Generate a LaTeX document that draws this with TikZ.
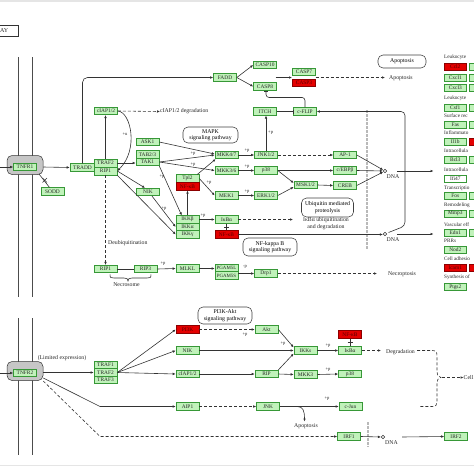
\documentclass[tikz,border=0pt]{standalone}
\usepackage{fontspec}
\setmainfont{Liberation Serif}
\usetikzlibrary{arrows.meta,calc}
\definecolor{kfill}{HTML}{C0F2BA}
\definecolor{kdraw}{HTML}{379837}
\definecolor{kred}{HTML}{E40000}
\definecolor{kline}{HTML}{333333}
\newcommand{\fsA}{\fontsize{5.4}{5.6}\selectfont}
\newcommand{\fsL}{\fontsize{5.8}{6.4}\selectfont}
\newcommand{\fsP}{\fontsize{4.6}{4.8}\selectfont}
\newcommand{\fsR}{\fontsize{5.2}{5.4}\selectfont}
\begin{document}
\begin{tikzpicture}[x=1pt,y=-1pt,
 gb/.style={draw=kdraw, fill=kfill, line width=0.6pt, minimum width=23pt, minimum height=7.5pt, inner sep=0pt, font=\fsA, text=black!85},
 rb/.style={gb, fill=kred, draw=red!55!black, text=red!35!black},
 wb/.style={gb, fill=white},
 cb/.style={gb, minimum width=21.5pt, minimum height=7pt},
 crb/.style={rb, minimum width=21.5pt, minimum height=7pt},
 cwb/.style={wb, minimum width=21.5pt, minimum height=7pt, draw=kdraw},
 rcpt/.style={draw=gray!40!black, fill=gray!45, rounded corners=5pt, minimum width=36pt, minimum height=19pt, inner sep=0pt, line width=0.5pt},
 pwbox/.style={draw=black!75, fill=white, rounded corners=5pt, line width=0.55pt, inner sep=0pt, font=\fsL, align=center},
 lbl/.style={font=\fsL, inner sep=0pt, text=black!85},
 rlbl/.style={font=\fsR, inner sep=0pt, text=black!85, anchor=west},
 pl/.style={font=\fsP, inner sep=0pt, text=black!85},
 ar/.style={draw=kline, line width=0.6pt, -{Latex[length=3pt,width=2.6pt]}},
 dar/.style={ar, dash pattern=on 3pt off 2pt},
 ln/.style={draw=kline, line width=0.6pt},
 dln/.style={ln, dash pattern=on 3pt off 2pt},
 inh/.style={draw=kline, line width=0.6pt, -{Bar[width=4pt]}},
 memb/.style={draw=gray!60!black, line width=0.8pt},
 nucl/.style={draw=gray!55, line width=1.6pt, dash pattern=on 2.5pt off 1.5pt},
 dnac/.style={circle, draw=kline, line width=0.55pt, minimum size=3.6pt, inner sep=0pt}
]
\useasboundingbox (0,0) rectangle (474,474);
\clip (0,0) rectangle (474,474);
% frame bands
\fill[gray!20] (0,0) rectangle (474,2);
\fill[gray!20] (0,464.5) rectangle (474,466);
% title box
\draw[black!80, line width=0.6pt] (-2,25.5) rectangle (18.5,36);
\node[lbl, anchor=east, font=\fontsize{6}{6}\selectfont] (ttl) at (8.5,31) {AY};
% membranes
\draw[memb] (18,57) -- (18,297);
\draw[memb] (32,57) -- (32,297);
\draw[memb] (18,318) -- (18,455);
\draw[memb] (32,318) -- (32,455);
% nuclear membranes
\draw[nucl] (367,110) -- (367,250);
\draw[nucl] (368,422) -- (368,447);

% ================= TNFR1 part =================
\node[rcpt] (tnfr1b) at (25,165) {};
\node[gb] (tnfr1) at (25,167) {TNFR1};
\coordinate (in1) at (0,167);
\draw[ar] (in1) -- (tnfr1.west);
\node[gb] (sodd) at (52.5,191.5) {SODD};
\draw[ln] (39,174) -- ($(sodd.north)+(-3,0)$);
\draw[ln] (42.5,178) -- (47,182.5) (47,178) -- (42.5,182.5);
\node[gb, minimum width=25pt] (tradd) at (82.5,167.5) {TRADD};
\node[gb, minimum height=8pt] (traf2) at (105.5,163) {TRAF2};
\node[gb, minimum height=8pt] (rip1) at (105.5,171) {RIP1};
\draw[ar] (tnfr1b.east |- tnfr1.east) -- (tradd.west);

\node[gb] (fadd) at (225,77.5) {FADD};
\draw[ar, rounded corners=5pt] (tradd.north) -- (tradd.north |- fadd.west) -- (fadd.west);
\node[gb] (casp10) at (265,65) {CASP10};
\node[gb] (casp8) at (265,86.5) {CASP8};
\draw[ar] (fadd.east) -- (casp10.west);
\draw[ar] (fadd.east) -- (casp8.west);
\node[gb] (casp7) at (304,72) {CASP7};
\node[rb] (casp3) at (304,83) {CASP3};
\coordinate (c3in) at (275.5,77.5);
\coordinate (c3end) at (292,77.5);
\draw[ar] (c3in) -- (c3end);
\coordinate (c3out) at (315.5,77.5);
\coordinate (apin) at (385,77.5);
\node[lbl, anchor=west] (apopt1) at (389,78) {Apoptosis};
\draw[dar] (c3out) -- (apin);
\node[pwbox, minimum width=48pt, minimum height=13pt] (apbox) at (402,61.5) {Apoptosis};

\node[gb] (itch) at (265,111.5) {ITCH};
\node[gb] (cflip) at (305,111.5) {c-FLIP};
\draw[inh] (itch.east) -- (cflip.west);
\draw[inh, rounded corners=3pt] (cflip.north) -- ++(0,-10) -| ($(casp8.south)+(1,0)$);

% cIAP
\node[gb] (ciap) at (106,111) {cIAP1/2};
\draw[ar] (traf2.north) -- (traf2.north |- ciap.south);
\node[lbl, anchor=west] (ciapdeg) at (160,111.5) {cIAP1/2 degradation};
\draw[dar] (ciap.east) -- (ciapdeg.west);
\draw[ar] (ciap.east) .. controls (131,112) and (139,150) .. (rip1.east);
\node[pl] (pu1) at (125,134) {+u};

% ASK1 / TAB / TAK1 / NIK
\node[gb] (ask1) at (147.5,142) {ASK1};
\node[gb] (tab) at (147.5,154.5) {TAB2/3};
\node[gb] (tak1) at (147.5,162) {TAK1};
\draw[ar] (traf2.east) -- (traf2.east -| tak1.west);
\node[gb] (nik) at (148,192) {NIK};
\draw[ar] (rip1.east) -- ($(nik.north)+(-3,0)$);

% Tpl2 / IKK
\node[gb] (tpl2) at (187.5,178.5) {Tpl2};
\node[rb] (nfkb1) at (187.5,186.5) {NF-κB};
\node[gb] (ikkb) at (187.5,219.5) {IKKβ};
\node[gb] (ikka) at (187.5,227) {IKKα};
\node[gb] (ikkg) at (187.5,234.5) {IKKγ};
\draw[ar] (ikkb.north) -- (nfkb1.south);
\draw[ar] (tak1.south east) -- ($(ikkb.north west)+(6,0)$);
\node[pl] (p1) at (162,177) {+p};
\draw[ar] ($(nik.south)+(4,0)$) -- (ikka.west);
\node[pl] (p2) at (164,209) {+p};
\draw[ar] (rip1.south east) -- (ikkg.west);

% MAPK
\node[gb] (mkk47) at (226.5,155) {MKK4/7};
\node[gb] (mkk36) at (226.5,170.5) {MKK3/6};
\node[gb] (mek1) at (226.5,195.5) {MEK1};
\draw[ar] (ask1.east) -- ($(mkk47.west)+(0,-1)$);
\draw[ar] (tak1.east) -- (mkk47.west);
\draw[ar] (tak1.east) -- (mkk36.west);
\node[pl] (p3) at (193,153.5) {+p};
\node[pl] (p4) at (193,164.5) {+p};
\draw[ar] ($(tpl2.north east)+(-2,0)$) -- ($(mkk47.south west)+(1,0)$);
\draw[ar] (tpl2.east) -- (mek1.west);
\node[pl] (p5) at (209,183) {+p};
\node[pwbox, minimum width=55pt, minimum height=16pt] (mapk) at (210.5,135) {MAPK\\signaling pathway};

\node[gb] (jnk) at (266,155) {JNK1/2};
\node[gb] (p38) at (266,170.5) {p38};
\node[gb] (erk) at (266,195.5) {ERK1/2};
\draw[ar] (mkk47.east) -- (jnk.west);
\draw[ar] (mkk36.east) -- (p38.west);
\draw[ar] (mek1.east) -- (erk.west);
\node[pl] (p6) at (247,151) {+p};
\node[pl] (p7) at (247,166.5) {+p};
\node[pl] (p8) at (247,191.5) {+p};
\draw[ar] (jnk.north) -- (jnk.north |- itch.south);
\node[pl, anchor=west] (p9) at (268,133) {+p};

\node[gb] (msk) at (305.5,185) {MSK1/2};
\draw[ar] (p38.east) -- ($(msk.west)+(0,-2)$);
\draw[ar] (erk.east) -- ($(msk.west)+(0,2)$);
\node[gb] (ap1) at (345,155) {AP-1};
\node[gb] (cebp) at (345,170.5) {c/EBPβ};
\node[gb] (creb) at (345,185.5) {CREB};
\draw[dar] (jnk.east) -- (ap1.west);
\draw[ar] (p38.east) -- (cebp.west);
\draw[ar] (msk.east) -- (creb.west);
\node[dnac] (dna1) at (385,171) {};
\node[lbl, anchor=west] (dna1t) at (386.5,176.5) {DNA};
\draw[ar] (ap1.east) -- (dna1);
\draw[ar] (cebp.east) -- (dna1);
\draw[ar] (creb.east) -- (dna1);
\coordinate (out1) at (433.5,171);
\draw[ar] ($(dna1)+(12,0)$) -- (out1);

% NF-kB
\node[gb] (ikba) at (226.5,219.5) {IκBα};
\node[rb] (nfkb2) at (226.5,234.5) {NF-κB};
\draw[ln] (ikba.south) -- (nfkb2.north);
\draw[ln] ($(ikba.south)!0.5!(nfkb2.north)+(-2.5,0)$) -- ++(5,0);
\draw[ar] (ikkb.east) -- (ikba.west);
\node[pl] (p10) at (203,215.5) {+p};
\coordinate (ubin) at (293,219.5);
\draw[dar] (ikba.east) -- (ubin);
\node[pwbox, minimum width=52pt, minimum height=19pt] (ubq) at (327.5,207.5) {Ubiquitin mediated\\proteolysis};
\node[lbl, align=center] (ubdeg) at (326,223.5) {IκBα ubiquitination\\and degradation};
\node[dnac] (dna2) at (385,234) {};
\node[lbl, anchor=west] (dna2t) at (386.5,239.5) {DNA};
\draw[ar] (nfkb2.east) -- (nfkb2.east -| dna2.west);
\coordinate (out2) at (433.5,234);
\draw[ar] ($(dna2)+(12,0)$) -- (out2);
\draw[ar, rounded corners=4pt] ($(dna2)+(3.5,-1.5)$) -- (405,226) -- (405,111.5) -- (cflip.east);
\node[pwbox, minimum width=54pt, minimum height=18pt] (nfkbpw) at (270,247) {NF-kappa B\\signaling pathway};

% necroptosis
\node[gb] (rip1b) at (105.5,269) {RIP1};
\draw[dar] (rip1.south) -- (rip1b.north);
\node[lbl, anchor=west] (deub) at (108,243) {Deubiquitination};
\node[gb] (rip3) at (145.5,269) {RIP3};
\draw[ln] (rip1b.east) -- (rip3.west);
\draw[ln] (110,274.5) .. controls (110,278) and (111,278) .. (114,278) -- (124,278) .. controls (127,278) and (128,279) .. (128,281) .. controls (128,279) and (129,278) .. (132,278) -- (147,278) .. controls (150,278) and (151,278) .. (151,274.5);
\node[lbl] (necs) at (126.5,285) {Necrosome};
\node[gb] (mlkl) at (187.5,268.5) {MLKL};
\draw[ar] (rip3.east) -- (mlkl.west);
\node[pl] (p11) at (163,264) {+p};
\node[gb, font=\fontsize{4.9}{5}\selectfont] (pgam5l) at (226.5,268) {PGAM5L};
\node[gb, font=\fontsize{4.9}{5}\selectfont] (pgam5s) at (226.5,275.5) {PGAM5S};
\draw[ar] (mlkl.east) -- (mlkl.east -| pgam5l.west);
\node[gb] (drp1) at (266,273.5) {Drp1};
\draw[ar] (pgam5s.east |- drp1.west) -- (drp1.west);
\node[pl] (p12) at (245,267) {-p};
\coordinate (necin) at (377,273.5);
\node[lbl, anchor=west] (necro) at (388,274.5) {Necroptosis};
\draw[dar] (drp1.east) -- (necin);

% ================= right column =================
\node[rlbl] (l1) at (444,57) {Leukocyte};
\node[crb] (g1) at (455.25,67) {Ccl2};
\node[cb] (g2) at (455.25,77.5) {Cxcl1};
\node[cb] (g3) at (455.25,88) {Cxcl3};
\node[rlbl] (l2) at (444,98.5) {Leukocyte};
\node[cb] (g4) at (455.25,107.5) {Csf1};
\node[rlbl] (l3) at (444,116) {Surface rec};
\node[cb] (g5) at (455.25,124.5) {Fas};
\node[rlbl] (l4) at (444,133) {Inflammato};
\node[cb] (g6) at (455.25,142) {Il1b};
\node[rlbl] (l5) at (444,151) {Intracellula};
\node[cb] (g7) at (455.25,160) {Bcl3};
\node[rlbl] (l6) at (444,170) {Intracellula};
\node[cwb] (g8) at (455.25,178.5) {Ifi47};
\node[rlbl] (l7) at (444,188) {Transcriptio};
\node[cb] (g9) at (455.25,196) {Fos};
\node[rlbl] (l8) at (444,205) {Remodeling};
\node[cb] (g10) at (455.25,213.5) {Mmp3};
\node[rlbl] (l9) at (444,224.5) {Vascular eff};
\node[cb] (g11) at (455.25,232.5) {Edn1};
\node[rlbl] (l10) at (444,241) {PRRs};
\node[cb] (g12) at (455.25,249.5) {Nod2};
\node[rlbl] (l11) at (444,259) {Cell adhesio};
\node[crb] (g13) at (455.25,268) {Icam1};
\node[rlbl] (l12) at (444,277.5) {Synthesis of};
\node[cb] (g14) at (455.25,287) {Ptgs2};
% second column (cut by the edge)
\foreach \yy in {67,77.5,88,107.5,124.5,160,196,213.5,232.5}
  \draw[draw=kdraw, fill=kfill, line width=0.6pt] (469,\yy-3.5) rectangle (477,\yy+3.5);
\foreach \yy in {142,268}
  \draw[draw=red!55!black, fill=kred, line width=0.6pt] (469,\yy-3.5) rectangle (477,\yy+3.5);

% ================= TNFR2 part =================
\node[rcpt] (tnfr2b) at (25,371) {};
\node[gb] (tnfr2) at (25,373) {TNFR2};
\coordinate (in2) at (0,373);
\draw[ar] (in2) -- (tnfr2.west);
\node[lbl] (limexp) at (62,358.5) {(Limited expression)};
\node[gb] (traf1b) at (105.5,365) {TRAF1};
\node[gb] (traf2b) at (105.5,372.5) {TRAF2};
\node[gb] (traf3b) at (105.5,380) {TRAF3};
\draw[ar] (tnfr2b.east |- traf2b.west) -- (traf2b.west);
\node[rb] (pi3k) at (187.5,329.5) {PI3K};
\node[pwbox, minimum width=54pt, minimum height=17pt] (pi3kpw) at (225,315.5) {PI3K-Akt\\signaling pathway};
\node[gb] (akt) at (266.5,329.5) {Akt};
\node[gb] (nikb) at (187.5,350.5) {NIK};
\node[gb] (ciapb) at (187.5,374) {cIAP1/2};
\node[gb] (rip) at (266.5,374) {RIP};
\node[gb] (ikks) at (305.5,350.5) {IKKs};
\node[gb] (mkk3) at (305.5,374.5) {MKK3};
\node[rb] (nfkb3) at (350,334.5) {NF-κB};
\node[gb] (ikba2) at (350,350.5) {IκBα};
\node[gb] (p38b) at (350,374) {p38};
\node[gb] (aip1) at (187.5,406.5) {AIP1};
\node[gb] (jnkb) at (268,406.5) {JNK};
\node[gb] (cjun) at (350.5,406.5) {c-Jun};
\node[gb] (irf1) at (349,436.5) {IRF1};
\node[dnac] (dna3) at (383,437) {};
\node[lbl, anchor=west] (dna3t) at (385,442.5) {DNA};
\node[gb] (irf2) at (456,436.5) {IRF2};

\draw[ar] (traf2b.east) -- (pi3k.west);
\draw[ar] (traf2b.east) -- (nikb.west);
\draw[ar] (traf2b.east) -- (ciapb.west);
\draw[dar] (pi3k.east) -- (akt.west);
\node[pl] (p13) at (245,334.5) {+p};
\draw[ar] (nikb.east) -- (ikks.west);
\draw[ar] (akt.east) -- ($(ikks.north west)+(0,1)$);
\node[pl] (p14) at (283,343.5) {+p};
\draw[ar] (ciapb.east) -- (rip.west);
\draw[ar] (rip.north east) -- ($(ikks.south west)+(0,-1)$);
\draw[ar] (rip.east) -- (mkk3.west);
\draw[ar] (ikks.east) -- (ikba2.west);
\node[pl] (p15) at (328,346) {+p};
\draw[ar] (mkk3.east) -- (p38b.west);
\node[pl] (p16) at (328,370) {+p};
\draw[ln] (nfkb3.south) -- (ikba2.north);
\draw[ln] ($(nfkb3.south)!0.5!(ikba2.north)+(-2.5,0)$) -- ++(5,0);
\coordinate (degin) at (381,350.5);
\node[lbl] (degr) at (400.5,352) {Degradation};
\draw[dar] (ikba2.east) -- (degin);
\draw[dln] (417,350.5) -- (432,350.5) .. controls (436,350.5) and (437,352) .. (437,356) -- (437,372) .. controls (437,375) and (438,377) .. (441,377.5) .. controls (438,378) and (437,380) .. (437,383) -- (437,402) .. controls (437,405) and (436,406.5) .. (432,406.5) -- (420,406.5);
\coordinate (brtip) at (442,377.5);
\node[lbl, anchor=west] (cell) at (463.5,377.5) {Cell};
\draw[dar] (brtip) -- (cell.west);

\draw[ar] (jnkb.east) -- (cjun.west);
\node[pl] (p17) at (327,399) {+p};
\node[lbl] (apopt2) at (306,426.5) {Apoptosis};
\draw[ar] ($(jnkb.east)+(17,0)$) .. controls ($(jnkb.east)+(23,0)$) and (304.5,410) .. (304.5,421.5);
\draw[dar] (aip1.east) -- (jnkb.west);
\draw[ar] ($(tnfr2b.east)+(0,7)$) -- (100,406.5) -- (aip1.west);
\draw[dar] ($(tnfr2b.east)+(0,10)$) -- (100,436.5) -- (irf1.west);
\draw[ar] (irf1.east) -- (dna3.west);
\draw[ar] ($(dna3)+(19,0)$) -- (irf2.west);
\end{tikzpicture}
\end{document}
